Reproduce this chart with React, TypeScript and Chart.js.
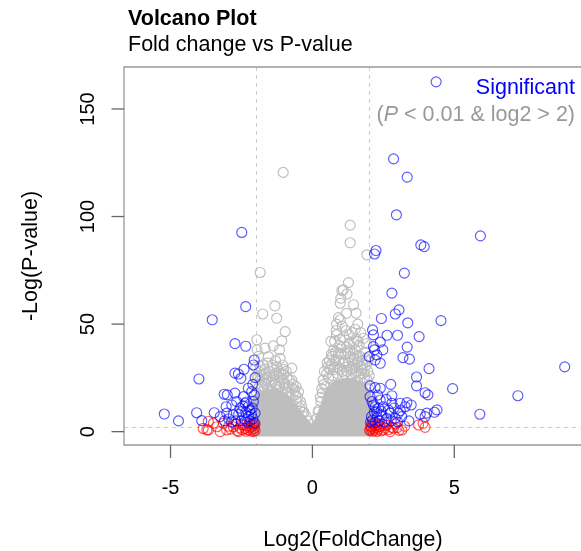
import React, { useEffect, useRef } from "react";
import { Chart, registerables } from "chart.js";

Chart.register(...registerables);

// ---- data (log2 fold change, -log P) ----
const xTicks = [-5, 0, 5];
const yTicks = [0, 50, 100, 150];
const foldThresholds = [-2, 2];
const pThreshold = 2;

// saturated gray core of the non-significant cloud (upper outline)
const coreX = [-2.15, -2.1, -2.0, -1.8, -1.6, -1.4, -1.2, -1.0, -0.85, -0.7, -0.55, -0.4, -0.25, -0.12, 0, 0.12, 0.25, 0.38, 0.5, 0.65, 0.85, 1.1, 1.35, 1.6, 1.85, 2.0, 2.1, 2.15];
const coreY = [0, 9, 15, 17, 18, 18.5, 18, 17, 15, 12.5, 10, 7.5, 5, 3, 2, 3.5, 7.5, 12, 17, 20.5, 22.5, 23.5, 23.5, 22.5, 20, 16, 9, 0];

const grayPoints: [number, number][] = [
  [-1.03, 120.5], [1.33, 96], [1.33, 87.8], [1.92, 82.2], [-1.84, 74], [1.27, 69.3], [1.09, 65.9], [1.04, 65.6],
  [0.98, 59.7], [1.54, 55.1], [0.92, 53], [0.98, 52], [-1.32, 58.5], [-1.75, 54.7], [-1.26, 52.7], [0.84, 47],
  [1.19, 47], [1.51, 47.6], [-0.96, 46.5], [-1.08, 42.2], [-1.96, 42.7], [0.98, 42.7], [1.54, 43], [1.8, 43.4],
  [-1.38, 39.9], [-1.67, 38.8], [-1.16, 38], [1.21, 39.3], [0.92, 36.5], [1.51, 38], [-1.55, 34.9], [-1.14, 34.1],
  [1.33, 34.9], [1.09, 31.8], [1.62, 32.6], [0.68, 31.5], [0.74, 28.7], [1.74, 28.7], [1.68, 24], [-0.73, 29.5],
  [-1.84, 30.2], [-1.43, 29.5], [-1.02, 26.4], [-0.73, 24], [-1.67, 22.5], [-1.26, 20.9], [-0.49, 18.6], [-1.9, 20.2],
  [-1.95, 26], [-1.85, 24], [-1.7, 27], [-1.6, 25], [-1.5, 28], [-1.45, 23], [-1.35, 26], [-1.25, 30],
  [-1.2, 24], [-1.1, 27], [-1.0, 23], [-0.9, 25], [-0.85, 21], [-0.7, 20], [-0.6, 17], [-0.55, 14],
  [-0.45, 11], [-0.35, 9], [-1.8, 21], [-1.65, 22], [-1.55, 20], [-1.3, 22], [-1.15, 21], [-0.95, 20],
  [-1.75, 31], [-1.58, 32], [-1.9, 35], [-1.95, 38], [-2.0, 30], [-1.3, 33], [-1.05, 31],
  [0.5, 27], [0.55, 30], [0.6, 33], [0.7, 35], [0.75, 38], [0.8, 33], [0.9, 30], [0.95, 40],
  [1.0, 36], [1.05, 28], [1.1, 44], [1.15, 33], [1.2, 30], [1.25, 37], [1.3, 41], [1.35, 29],
  [1.4, 33], [1.45, 36], [1.5, 31], [1.55, 28], [1.6, 35], [1.65, 40], [1.7, 30], [1.75, 33],
  [1.8, 27], [1.85, 37], [1.9, 31], [1.95, 28], [0.65, 42], [0.85, 45], [1.4, 46], [1.7, 46],
  [1.9, 41], [0.4, 22], [0.35, 18], [0.3, 14], [0.2, 9], [0.85, 50], [1.2, 55], [1.6, 50],
  [1.45, 59], [1.0, 62], [1.22, 64],
  [-2.0, 22], [-1.97, 18], [-1.92, 25], [-1.88, 28], [-1.82, 17], [-1.78, 26], [-1.72, 19], [-1.68, 29],
  [-1.62, 24], [-1.57, 17], [-1.52, 26], [-1.48, 19], [-1.42, 31], [-1.38, 24], [-1.33, 18], [-1.28, 27],
  [-1.22, 19], [-1.18, 28], [-1.12, 25], [-1.08, 18], [-1.02, 29], [-0.98, 22], [-0.92, 28], [-0.88, 18],
  [-0.82, 24], [-0.78, 16], [-0.68, 22], [-0.63, 19], [-0.58, 21], [-0.52, 16], [-0.42, 14], [-0.38, 12],
  [-0.3, 9], [-0.22, 7], [-0.15, 5],
  [0.15, 6], [0.22, 10], [0.28, 16], [0.33, 20], [0.38, 24], [0.42, 28], [0.47, 21], [0.52, 32],
  [0.57, 25], [0.62, 29], [0.67, 36], [0.72, 26], [0.78, 30], [0.82, 37], [0.88, 27], [0.93, 33],
  [0.97, 29], [1.02, 39], [1.07, 32], [1.12, 27], [1.17, 36], [1.23, 28], [1.28, 32], [1.32, 38],
  [1.37, 27], [1.42, 30], [1.47, 34], [1.52, 27], [1.58, 32], [1.63, 26], [1.68, 35], [1.72, 27],
  [1.78, 31], [1.83, 25], [1.88, 34], [1.93, 24], [1.97, 33], [2.0, 26], [1.98, 20], [1.6, 42],
  [1.3, 45], [0.78, 42], [1.05, 49], [1.45, 41],
];

const redPoints: [number, number][] = [
  [-3.67, 4.7], [-3.67, 0.8], [-3.49, 3.9], [-3.37, 2.3], [-3.25, 0], [-3.14, 3.9], [-3.02, 0.8], [-2.95, 2.5],
  [-2.88, 1.2], [-2.79, 2.3], [-2.7, 3.5], [-2.65, 0.5], [-2.61, 0], [-2.55, 1.8], [-2.5, 3.2], [-2.47, 0.9],
  [-2.43, 3.1], [-2.38, 1.5], [-2.34, 0.2], [-2.3, 2.6], [-2.26, 0.8], [-2.22, 3.8], [-2.2, 1.7], [-2.17, 0.3],
  [-2.14, 2.3], [-2.11, 3.4], [-2.1, 1.1], [-2.08, 0], [-2.06, 2.8], [-2.04, 1.6], [-2.02, 0.5], [-2.02, 3.6],
  [-3.85, 1.5], [-3.72, 0.8],
  [2.02, 0.5], [2.03, 0.8], [2.05, 2.6], [2.07, 1.5], [2.09, 2.3], [2.1, 3.6], [2.12, 0.2], [2.15, 3.9],
  [2.17, 1.2], [2.2, 2.8], [2.22, 0.6], [2.25, 1.9], [2.27, 0], [2.3, 3.3], [2.33, 1.1], [2.36, 2.4],
  [2.39, 2.3], [2.42, 0.4], [2.45, 3.5], [2.5, 0.8], [2.55, 1.7], [2.6, 2.9], [2.62, 3.1], [2.68, 0.9],
  [2.74, 0], [2.8, 2], [2.86, 1.6], [2.92, 3.6], [2.99, 1.9], [3.05, 0.6], [3.15, 0.8], [3.25, 2.5],
  [3.74, 3.1], [3.97, 2], [3.9, 3.9],
];

const bluePoints: [number, number][] = [
  [4.36, 162.6], [2.86, 126.8], [3.34, 118.3], [2.96, 100.8], [5.92, 91], [3.82, 86.8], [3.94, 86], [2.24, 84.2],
  [2.19, 82.6], [-2.49, 92.6], [3.24, 73.7], [2.8, 64.4], [3.05, 56.6], [2.92, 54.7], [2.43, 52.6], [3.36, 50.6],
  [4.53, 51.6], [2.12, 47.3], [2.15, 45], [2.63, 44.8], [3.0, 44.8], [3.76, 44.2], [2.39, 41.6], [2.15, 39.5],
  [2.19, 38], [2.48, 38], [3.34, 39.3], [2.0, 34.9], [2.21, 33.3], [2.39, 31.8], [2.27, 35.7], [3.19, 34.4],
  [3.42, 33.7], [4.11, 29.3], [8.89, 30.1], [3.67, 25.4], [3.67, 21.3], [2.76, 22], [2.03, 21.3], [2.21, 20.5],
  [2.39, 20.2], [3.97, 18.1], [4.07, 17.1], [4.94, 20], [7.24, 16.7], [2.8, 16.7], [5.9, 8.1], [4.39, 10.1],
  [4.3, 9], [3.8, 8.1], [3.97, 7], [4.03, 8.6], [2.39, 14.7], [2.15, 12.4], [2.5, 11.6], [2.8, 13.2],
  [3.09, 13.2], [3.33, 13.5], [3.48, 12.4], [2.74, 8.6], [3.03, 8.6], [3.15, 7], [2.27, 9.3], [2.45, 7.8],
  [2.62, 6.2], [2.92, 6.2], [3.27, 11.6], [2.03, 16.3], [2.21, 11.6],
  [2.05, 4.5], [2.08, 7], [2.12, 5.5], [2.18, 9], [2.22, 4.2], [2.28, 6.5], [2.33, 11], [2.36, 5],
  [2.42, 9.5], [2.55, 4.5], [2.68, 10], [2.78, 5], [2.88, 11], [3.0, 4.5], [3.1, 9.8], [3.4, 5],
  [2.1, 14], [2.3, 17], [2.6, 15],
  [-2.35, 58.1], [-3.53, 52], [-2.73, 40.9], [-2.35, 39.7], [-2.05, 33.3], [-2.08, 31], [-4.0, 24.5], [-2.73, 27.2],
  [-2.61, 26.8], [-2.41, 29], [-2.52, 24.8], [-2.02, 25.1], [-3.11, 17.4], [-3.0, 17.1], [-2.73, 17.9], [-2.43, 16.3],
  [-2.26, 20.2], [-2.14, 18.6], [-2.67, 14], [-2.37, 13.2], [-2.08, 14], [-5.22, 8.2], [-4.72, 5], [-4.08, 8.8],
  [-3.46, 8.8], [-3.9, 5.1], [-3.25, 7], [-3.02, 8.6], [-2.79, 7.8], [-2.49, 9.3], [-2.2, 10.1], [-2.02, 8.6],
  [-3.04, 11.6], [-2.84, 12.4], [-2.55, 10.9], [-2.26, 11.6],
  [-2.05, 4], [-2.1, 6], [-2.15, 8], [-2.2, 5], [-2.25, 7], [-2.3, 4.5], [-2.35, 9], [-2.4, 6],
  [-2.45, 12], [-2.5, 5], [-2.6, 8], [-2.7, 5], [-2.85, 4.5], [-2.95, 6], [-3.1, 5], [-2.12, 11],
  [-2.32, 13.8], [-2.05, 17], [-2.1, 22],
];

const titleText = "Volcano Plot";
const subtitleText = "Fold change vs P-value";
const xTitle = "Log2(FoldChange)";
const yTitle = "-Log(P-value)";
const legendTitle = "Significant";

const FONT = '"Liberation Sans", Arial, Helvetica, sans-serif';

const decor = {
  id: "decor",
  beforeDatasetsDraw(chart: any) {
    const { ctx, chartArea: a, scales } = chart;
    const x = scales.x, y = scales.y;
    ctx.save();
    ctx.strokeStyle = "#cccccc";
    ctx.lineWidth = 1;
    ctx.setLineDash([4, 4]);
    foldThresholds.forEach((v) => {
      const px = Math.round(x.getPixelForValue(v)) + 0.5;
      ctx.beginPath();
      ctx.moveTo(px, a.top);
      ctx.lineTo(px, a.bottom);
      ctx.stroke();
    });
    const py = Math.round(y.getPixelForValue(pThreshold)) + 0.5;
    ctx.beginPath();
    ctx.moveTo(a.left, py);
    ctx.lineTo(a.right, py);
    ctx.stroke();
    ctx.restore();
  },
  afterDatasetsDraw(chart: any) {
    const { ctx, chartArea: a, scales } = chart;
    const x = scales.x, y = scales.y;
    ctx.save();
    // box (left, top, bottom)
    ctx.strokeStyle = "#999999";
    ctx.lineWidth = 1.3;
    ctx.beginPath();
    ctx.moveTo(a.right + 2, a.top);
    ctx.lineTo(a.left, a.top);
    ctx.lineTo(a.left, a.bottom);
    ctx.lineTo(a.right + 2, a.bottom);
    ctx.stroke();
    // ticks
    ctx.strokeStyle = "#666666";
    ctx.lineWidth = 1.3;
    ctx.fillStyle = "#000000";
    ctx.font = `20px ${FONT}`;
    ctx.textAlign = "center";
    ctx.textBaseline = "alphabetic";
    xTicks.forEach((v) => {
      const px = x.getPixelForValue(v);
      ctx.beginPath();
      ctx.moveTo(px, a.bottom);
      ctx.lineTo(px, a.bottom + 13);
      ctx.stroke();
      ctx.fillText(v < 0 ? "-" + Math.abs(v) : String(v), px, 494);
    });
    yTicks.forEach((v) => {
      const py = y.getPixelForValue(v);
      ctx.beginPath();
      ctx.moveTo(a.left - 12.5, py);
      ctx.lineTo(a.left, py);
      ctx.stroke();
      ctx.save();
      ctx.translate(93.5, py);
      ctx.rotate(-Math.PI / 2);
      ctx.fillText(String(v), 0, 0);
      ctx.restore();
    });
    // axis titles
    ctx.font = `21.5px ${FONT}`;
    ctx.fillText(xTitle, (a.left + a.right) / 2, 546);
    ctx.save();
    ctx.translate(37, (a.top + a.bottom) / 2);
    ctx.rotate(-Math.PI / 2);
    ctx.fillText(yTitle, 0, 0);
    ctx.restore();
    // titles
    ctx.textAlign = "left";
    ctx.font = `bold 21.5px ${FONT}`;
    ctx.fillText(titleText, 128, 25);
    ctx.font = `21.5px ${FONT}`;
    ctx.fillText(subtitleText, 128, 51);
    // legend
    ctx.textAlign = "right";
    ctx.fillStyle = "#0000ff";
    ctx.fillText(legendTitle, 575, 94);
    ctx.textAlign = "left";
    ctx.fillStyle = "#999999";
    const p1 = "(";
    const p2 = "P";
    const p3 = " < 0.01 & log2 > 2)";
    ctx.font = `21.5px ${FONT}`;
    const w1 = ctx.measureText(p1).width;
    const w3 = ctx.measureText(p3).width;
    ctx.font = `italic 21.5px ${FONT}`;
    const w2 = ctx.measureText(p2).width;
    let sx = 575 - (w1 + w2 + w3);
    ctx.font = `21.5px ${FONT}`;
    ctx.fillText(p1, sx, 121);
    sx += w1;
    ctx.font = `italic 21.5px ${FONT}`;
    ctx.fillText(p2, sx, 121);
    sx += w2;
    ctx.font = `21.5px ${FONT}`;
    ctx.fillText(p3, sx, 121);
    ctx.restore();
  },
};

export default function App() {
  const ref = useRef<HTMLCanvasElement | null>(null);
  useEffect(() => {
    if (!ref.current) return;
    const toXY = (arr: [number, number][]) => arr.map(([x, y]) => ({ x, y }));
    const ring = (color: string, order: number, data: any[]) => ({
      type: "scatter" as const,
      data,
      order,
      pointStyle: "circle",
      pointRadius: 5,
      pointBorderWidth: 1.15,
      pointBackgroundColor: "rgba(0,0,0,0)",
      pointBorderColor: color,
      borderColor: color,
      showLine: false,
    });
    const chart = new Chart(ref.current, {
      type: "scatter",
      data: {
        datasets: [
          ring("rgba(0,0,255,0.65)", 1, toXY(bluePoints)),
          ring("rgba(255,0,0,0.65)", 2, toXY(redPoints)),
          ring("#bebebe", 3, toXY(grayPoints)),
          {
            type: "line" as const,
            data: coreX.map((x, i) => ({ x, y: coreY[i] })),
            order: 4,
            showLine: true,
            borderColor: "#bebebe",
            borderWidth: 6,
            backgroundColor: "#bebebe",
            fill: { value: -2.2 },
            pointRadius: 0,
            tension: 0.3,
          } as any,
        ],
      },
      options: {
        responsive: false,
        devicePixelRatio: 1,
        animation: false,
        events: [],
        layout: { padding: { left: 124, top: 67, right: 8, bottom: 106 } },
        scales: {
          x: { type: "linear", min: -6.64, max: 9.5, display: false },
          y: { type: "linear", min: -6.2, max: 169.5, display: false },
        },
        plugins: { legend: { display: false }, tooltip: { enabled: false } },
      },
      plugins: [decor],
    });
    return () => chart.destroy();
  }, []);
  return (
    <div style={{ position: "fixed", left: 0, top: 0, width: 581, height: 551, overflow: "hidden", background: "#fff" }}>
      <canvas ref={ref} width={590} height={551} style={{ display: "block" }} />
    </div>
  );
}
